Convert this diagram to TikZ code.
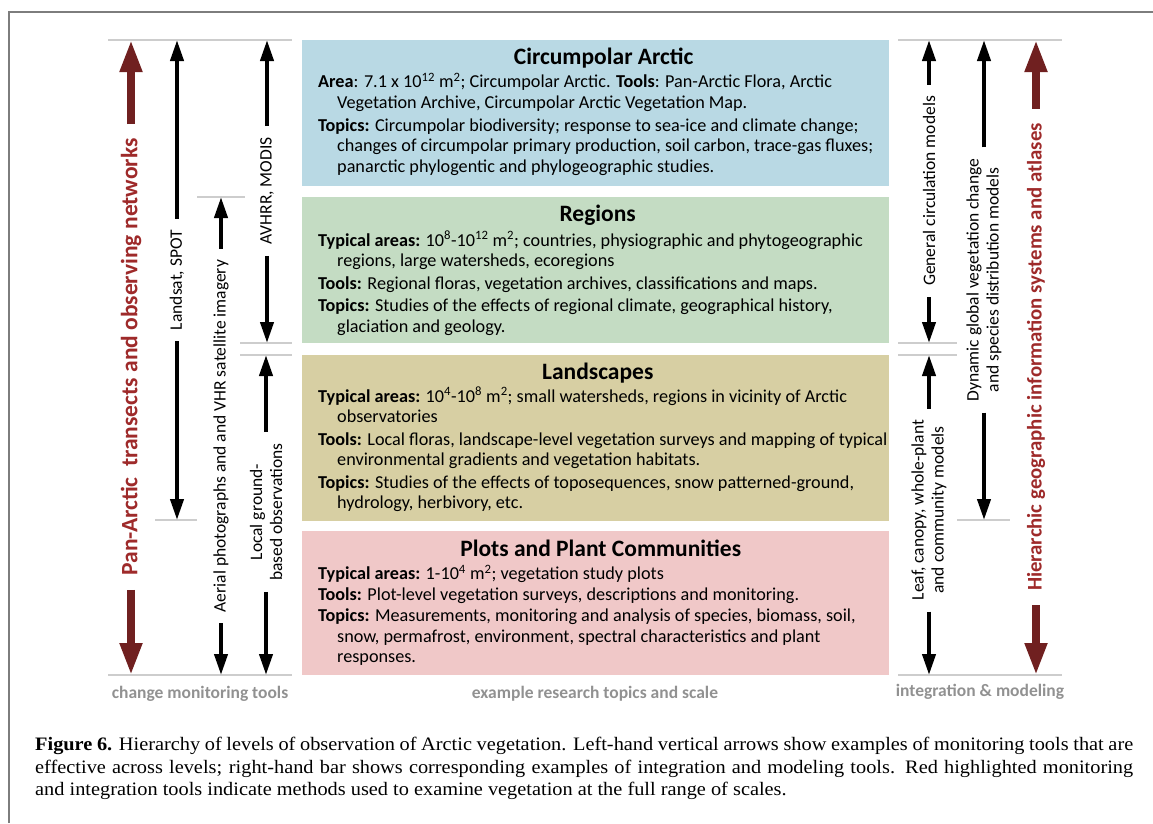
\documentclass[tikz,border=0pt]{standalone}
\usepackage{fontspec}
\setmainfont{Carlito}
\newfontfamily\captionfont[FakeStretch=1.07]{Liberation Serif}
\usetikzlibrary{arrows.meta}
\usetikzlibrary{positioning}

\definecolor{arcticblue}{RGB}{185,217,228}
\definecolor{regiongreen}{RGB}{196,220,195}
\definecolor{landkhaki}{RGB}{215,207,163}
\definecolor{plotpink}{RGB}{240,200,200}
\definecolor{darkmaroon}{RGB}{112,32,32}
\definecolor{maroontext}{RGB}{158,42,42}
\definecolor{footgray}{RGB}{145,145,145}
\definecolor{tickgray}{RGB}{205,205,205}
\definecolor{framegray}{RGB}{125,125,125}

\newcommand{\sqm}{m\textsuperscript{2}}
\newcommand{\contline}{\hspace*{19pt}}

\tikzset{
    levelbox/.style={rectangle, anchor=north west, inner sep=0pt, minimum width=587pt},
    leveltitle/.style={anchor=base, font=\fontsize{23.5}{26}\selectfont\bfseries},
    levelbody/.style={anchor=north west, inner sep=0pt, align=left, font=\fontsize{18.2}{20.5}\selectfont},
    tickline/.style={draw=tickgray, line width=1.2pt},
    toolarrow/.style={line width=4pt, -{Triangle[length=21pt,width=13pt]}},
    maroonarrow/.style={draw=darkmaroon, line width=7.5pt, -{Triangle[length=32pt,width=21pt]}},
    toollabel/.style={rotate=90, align=center, inner sep=11pt, font=\fontsize{17.5}{20}\selectfont},
    maroonlabel/.style={rotate=90, inner sep=14pt, text=maroontext, font=\fontsize{23.5}{26}\selectfont\bfseries},
    footlabel/.style={text=footgray, font=\fontsize{17.5}{20}\selectfont\bfseries},
    captionnode/.style={anchor=north west, inner sep=0pt, text width=1098pt, align=justify, font=\captionfont\fontsize{19}{22.5}\selectfont}
}

\begin{document}
\begin{tikzpicture}[x=1pt,y=-1pt]
    \useasboundingbox (0,0) rectangle (1153,823);
    \draw [framegray, line width=1.3pt] (9,823) -- (9,12) -- (1153,12);

    \node [levelbox, fill=arcticblue, minimum height=146pt] (arctic) at (302,40) {};
    \node [levelbox, fill=regiongreen, minimum height=146pt] (regions) at (302,197) {};
    \node [levelbox, fill=landkhaki, minimum height=166pt] (landscapes) at (302,355) {};
    \node [levelbox, fill=plotpink, minimum height=144pt] (plots) at (302,531) {};

    \node [leveltitle] (arcticT) at ([xshift=8pt,yshift=-24pt]arctic.north) {Circumpolar Arctic};
    \node [leveltitle] (regionsT) at ([xshift=2pt,yshift=-24pt]regions.north) {Regions};
    \node [leveltitle] (landscapesT) at ([xshift=2pt,yshift=-24pt]landscapes.north) {Landscapes};
    \node [leveltitle] (plotsT) at ([xshift=5pt,yshift=-25pt]plots.north) {Plots and Plant Communities};

    \node [levelbody] (arcticB) at ([xshift=16pt,yshift=-33pt]arctic.north west) {%
        \textbf{Area}: 7.1 x 10\textsuperscript{12} \sqm; Circumpolar Arctic. \textbf{Tools}: Pan-Arctic Flora, Arctic\\
        \contline Vegetation Archive, Circumpolar Arctic Vegetation Map.\\[2.5pt]
        \textbf{Topics:} Circumpolar biodiversity; response to sea-ice and climate change;\\
        \contline changes of circumpolar primary production, soil carbon, trace-gas fluxes;\\
        \contline panarctic phylogentic and phylogeographic studies.};
    \node [levelbody] (regionsB) at ([xshift=16pt,yshift=-34pt]regions.north west) {%
        \textbf{Typical areas:} 10\textsuperscript{8}-10\textsuperscript{12} \sqm; countries, physiographic and phytogeographic\\
        \contline regions, large watersheds, ecoregions\\[2pt]
        \textbf{Tools:} Regional floras, vegetation archives, classifications and maps.\\[2pt]
        \textbf{Topics:} Studies of the effects of regional climate, geographical history,\\
        \contline glaciation and geology.};
    \node [levelbody] (landscapesB) at ([xshift=16pt,yshift=-32pt]landscapes.north west) {%
        \textbf{Typical areas:} 10\textsuperscript{4}-10\textsuperscript{8} \sqm; small watersheds, regions in vicinity of Arctic\\
        \contline observatories\\[2pt]
        \textbf{Tools:} Local floras, landscape-level vegetation surveys and mapping of typical\\
        \contline environmental gradients and vegetation habitats.\\[2pt]
        \textbf{Topics:} Studies of the effects of toposequences, snow patterned-ground,\\
        \contline hydrology, herbivory, etc.};
    \node [levelbody] (plotsB) at ([xshift=16pt,yshift=-34pt]plots.north west) {%
        \textbf{Typical areas:} 1-10\textsuperscript{4} \sqm; vegetation study plots\\
        \textbf{Tools:} Plot-level vegetation surveys, descriptions and monitoring.\\[1pt]
        \textbf{Topics:} Measurements, monitoring and analysis of species, biomass, soil,\\
        \contline snow, permafrost, environment, spectral characteristics and plant\\
        \contline responses.};

    \draw [tickline] (108,40) -- (292,40);
    \draw [tickline] (108,675) -- (292,675);
    \draw [tickline] (155,520) -- (197,520);
    \draw [tickline] (197,197) -- (245,197);
    \draw [tickline] (240,343) -- (292,343);
    \draw [tickline] (240,355) -- (292,355);
    \draw [tickline] (898,40) -- (1062,40);
    \draw [tickline] (898,675) -- (1062,675);
    \draw [tickline] (898,343) -- (957,343);
    \draw [tickline] (898,355) -- (957,355);
    \draw [tickline] (957,520) -- (1010,520);

    \node [maroonlabel] (panarctic) at (131,357) {Pan-Arctic\ \ transects and observing networks};
    \node [toollabel] (landsat) at (177,280) {Landsat, SPOT};
    \node [toollabel] (aerial) at (221,436) {Aerial photographs and and VHR satellite imagery};
    \node [toollabel] (avhrr) at (267,191) {AVHRR, MODIS};
    \node [toollabel] (ground) at (266,512) {Local ground-\\based observations};
    \node [toollabel] (gcm) at (929,191) {General circulation models};
    \node [toollabel] (dgvm) at (984,280) {Dynamic global vegetation change\\and species distribution models};
    \node [toollabel] (leaf) at (929,510) {Leaf, canopy, whole-plant\\and community models};
    \node [maroonlabel, font=\fontsize{20.8}{24}\selectfont\bfseries] (hgis) at (1036,357) {Hierarchic geographic information systems and atlases};

    \coordinate (panarcticTop) at (131,40);
    \coordinate (panarcticBot) at (131,675);
    \coordinate (landsatTop) at (177,40);
    \coordinate (landsatBot) at (177,520);
    \coordinate (aerialTop) at (221,197);
    \coordinate (aerialBot) at (221,675);
    \coordinate (avhrrTop) at (267,40);
    \coordinate (avhrrBot) at (267,343);
    \coordinate (groundTop) at (266,355);
    \coordinate (groundBot) at (266,675);
    \coordinate (gcmTop) at (929,40);
    \coordinate (gcmBot) at (929,343);
    \coordinate (dgvmTop) at (984,40);
    \coordinate (dgvmBot) at (984,520);
    \coordinate (leafTop) at (929,355);
    \coordinate (leafBot) at (929,675);
    \coordinate (hgisTop) at (1036,40);
    \coordinate (hgisBot) at (1036,675);

    \draw [maroonarrow] (panarctic) -- (panarcticTop);
    \draw [maroonarrow] (panarctic) -- (panarcticBot);
    \draw [maroonarrow] (hgis) -- (hgisTop);
    \draw [maroonarrow] (hgis) -- (hgisBot);
    \draw [toolarrow] (landsat) -- (landsatTop);
    \draw [toolarrow] (landsat) -- (landsatBot);
    \draw [toolarrow] (aerial) -- (aerialTop);
    \draw [toolarrow] (aerial) -- (aerialBot);
    \draw [toolarrow] (avhrr) -- (avhrrTop);
    \draw [toolarrow] (avhrr) -- (avhrrBot);
    \draw [toolarrow] (ground) -- (groundTop);
    \draw [toolarrow] (ground) -- (groundBot);
    \draw [toolarrow] (gcm) -- (gcmTop);
    \draw [toolarrow] (gcm) -- (gcmBot);
    \draw [toolarrow] (dgvm) -- (dgvmTop);
    \draw [toolarrow] (dgvm) -- (dgvmBot);
    \draw [toolarrow] (leaf) -- (leafTop);
    \draw [toolarrow] (leaf) -- (leafBot);

    \node [footlabel] (monitoring) at (200,694) {change monitoring tools};
    \node [footlabel] (topics) at (595,694) {example research topics and scale};
    \node [footlabel] (modeling) at (980,692) {integration \& modeling};

    \node [captionnode] (caption) at (35,737) {\textbf{Figure 6.} Hierarchy of levels of observation of Arctic vegetation. Left-hand vertical arrows show examples of monitoring tools that are\linebreak effective across levels; right-hand bar shows corresponding examples of integration and modeling tools. Red highlighted monitoring\linebreak and integration tools indicate methods used to examine vegetation at the full range of scales.};
\end{tikzpicture}
\end{document}
